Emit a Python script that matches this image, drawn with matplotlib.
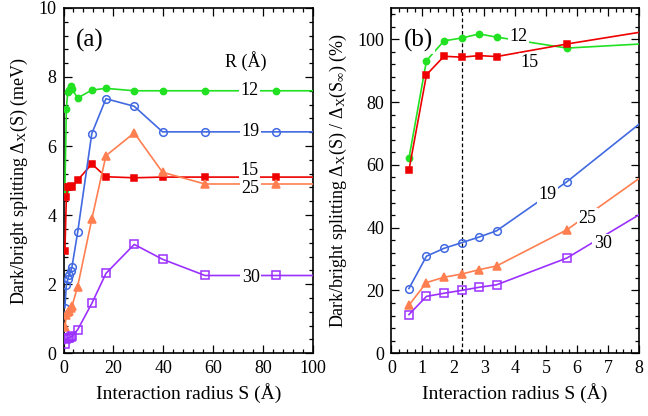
import matplotlib
matplotlib.use("Agg")
import matplotlib.pyplot as plt
from matplotlib.ticker import MultipleLocator

plt.rcParams['font.family'] = ['Liberation Serif', 'DejaVu Serif']
plt.rcParams['mathtext.fontset'] = 'custom'
plt.rcParams['mathtext.rm'] = 'Liberation Serif'
plt.rcParams['mathtext.it'] = 'Liberation Serif:italic'

# ---------------- data ----------------
radii = ['12', '15', '19', '25', '30']
colors = ['#22e022', '#ee0000', '#4169e1', '#ff7f50', '#9b30ff']
markers = ['o', 's', 'o', '^', 's']
filled = [True, True, False, True, False]
msizes = [4.5, 5, 5.5, 5.5, 5.5]

# panel (a): interaction radius S (Å) and splitting (meV)
S_a = [0.567, 1.134, 1.701, 2.268, 2.835, 3.402, 5.67, 11.34, 17.01, 28.35, 39.69, 56.7, 85.05, 113.4]
split_12 = [4.72, 7.08, 7.56, 7.63, 7.73, 7.65, 7.39, 7.62, 7.67, 7.60, 7.60, 7.60, 7.60, 7.60]
split_15 = [2.97, 4.51, 4.82, 4.80, 4.83, 4.81, 5.01, 5.48, 5.11, 5.08, 5.10, 5.10, 5.10, 5.10]
split_19 = [1.32, 1.98, 2.14, 2.26, 2.37, 2.50, 3.50, 6.36, 7.37, 7.15, 6.41, 6.41, 6.41, 6.41]
split_25 = [0.75, 1.10, 1.19, 1.23, 1.30, 1.36, 1.93, 3.88, 5.72, 6.38, 5.24, 4.90, 4.90, 4.90]
split_30 = [0.28, 0.41, 0.43, 0.45, 0.47, 0.49, 0.68, 1.44, 2.31, 3.15, 2.72, 2.25, 2.25, 2.25]

# panel (b): ratio to S -> infinity (%)
S_b = [0.567, 1.134, 1.701, 2.268, 2.835, 3.402, 5.67, 11.34]
ratio_12 = [62.1, 93.2, 99.5, 100.4, 101.7, 100.7, 97.2, 100.3]
ratio_15 = [58.3, 88.7, 94.6, 94.3, 94.8, 94.5, 98.5, 107.5]
ratio_19 = [20.6, 30.9, 33.4, 35.2, 37.0, 39.0, 54.6, 99.2]
ratio_25 = [15.3, 22.5, 24.2, 25.2, 26.6, 27.8, 39.3, 79.0]
ratio_30 = [12.3, 18.1, 19.1, 20.0, 21.0, 21.8, 30.3, 63.8]

S_mark = 2.268  # dashed reference line in (b)

splits = [split_12, split_15, split_19, split_25, split_30]
ratios = [ratio_12, ratio_15, ratio_19, ratio_25, ratio_30]

# label positions
lab_a = [(74.5, 7.60), (74.5, 5.30), (75, 6.41), (75, 4.77), (75, 2.20)]
lab_b = [(4.1, 101.0), (4.45, 92.5), (5.05, 50.5), (6.33, 43.0), (6.83, 34.8)]

# ---------------- figure ----------------
fig = plt.figure(figsize=(6.48, 4.16), dpi=100)
axa = fig.add_axes([0.098, 0.151, 0.385, 0.830])
axb = fig.add_axes([0.604, 0.151, 0.382, 0.830])

bbox = dict(facecolor='white', edgecolor='none', pad=1.0)

for i in range(5):
    mfc = colors[i] if filled[i] else 'none'
    axa.plot(S_a, splits[i], color=colors[i], lw=1.2, marker=markers[i],
             ms=msizes[i], mfc=mfc, mec=colors[i], mew=1.1,
             markevery=list(range(len(S_a) - 1)), zorder=3, clip_on=True)
    axb.plot(S_b, ratios[i], color=colors[i], lw=1.2, marker=markers[i],
             ms=msizes[i], mfc=mfc, mec=colors[i], mew=1.1,
             markevery=list(range(len(S_b) - 1)), zorder=3, clip_on=True)
    axa.text(lab_a[i][0], lab_a[i][1], radii[i], ha='center', va='center',
             fontsize=13, bbox=bbox, zorder=5)
    axb.text(lab_b[i][0], lab_b[i][1], radii[i], ha='center', va='center',
             fontsize=13, bbox=bbox, zorder=5)

axa.text(73, 8.47, 'R (Å)', ha='center', va='center', fontsize=13)
axa.text(0.05, 0.905, '(a)', transform=axa.transAxes, fontsize=18,
         ha='left', va='center')
axb.text(0.05, 0.905, '(b)', transform=axb.transAxes, fontsize=18,
         ha='left', va='center', bbox=bbox, zorder=6)

axb.axvline(S_mark, color='black', ls=(0, (3, 2)), lw=0.9, zorder=2)

axa.set_xlim(0, 100)
axa.set_ylim(0, 10)
axb.set_xlim(0, 8)
axb.set_ylim(0, 110)

axa.xaxis.set_major_locator(MultipleLocator(20))
axa.xaxis.set_minor_locator(MultipleLocator(4))
axa.yaxis.set_major_locator(MultipleLocator(2))
axa.yaxis.set_minor_locator(MultipleLocator(0.4))
axb.xaxis.set_major_locator(MultipleLocator(1))
axb.xaxis.set_minor_locator(MultipleLocator(0.25))
axb.yaxis.set_major_locator(MultipleLocator(20))
axb.yaxis.set_minor_locator(MultipleLocator(4))

for ax in (axa, axb):
    ax.tick_params(which='both', direction='in', top=True, right=True,
                   labelsize=13, width=0.9)
    ax.tick_params(which='major', length=6, pad=5)
    ax.tick_params(which='minor', length=3)
    for sp in ax.spines.values():
        sp.set_linewidth(1.2)
    ax.set_xlabel('Interaction radius S (Å)', fontsize=14, labelpad=4)

axa.set_ylabel(r'Dark/bright splitting $\Delta_{\rm X}$(S) (meV)', fontsize=13, labelpad=6)
axb.set_ylabel(r'Dark/bright splitting $\Delta_{\rm X}$(S) / $\Delta_{\rm X}$(S$_\infty$) (%)',
               fontsize=13, labelpad=6)

fig.savefig('out.png', dpi=100)
